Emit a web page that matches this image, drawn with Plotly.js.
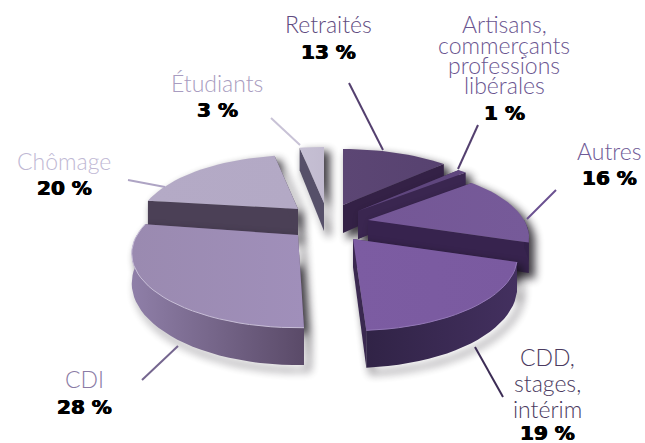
<!DOCTYPE html>
<html lang="fr">
<head>
<meta charset="utf-8">
<script src="https://cdn.plot.ly/plotly-3.0.1.min.js"></script>
<style>html,body{margin:0;padding:0;background:#fff}#chart{width:645px;height:443px}</style>
</head>
<body>
<div id="chart"></div>
<script>
// Répartition par situation, dans le sens horaire depuis midi
const sliceNames = ['Retraités', 'Artisans', 'Autres', 'CDD', 'CDI', 'Chômage', 'Étudiants'];
const shares = [13, 1, 16, 19, 28, 20, 3];
const labelLines = [
  ['Retraités'],
  ['Artisans,', 'commerçants', 'professions', 'libérales'],
  ['Autres'],
  ['CDD,', 'stages,', 'intérim'],
  ['CDI'],
  ['Chômage'],
  ['Étudiants']
];

// Projection of the exploded disc
const RADIUS = 162, DEPTH = 70, PERSPECTIVE = 0.25, THICKNESS = 28;

// Per-slice look: centre of the slice on the page, colours, label and leader placement
const looks = [
  {c:[343,205], top:['#5c4674','#574270'], wall:['#382549','#33213f'], cut:'#342146', text:'#5f4b80',
   lx:328, ly:[24], py:52, lead:[[349,83],[383,150]], leadCol:'#54406f'},
  {c:[358,211], top:['#5f467e','#5f467e'], wall:['#38254e','#38254e'], cut:'#3a2650', text:'#6a5590',
   lx:504, ly:[24,45,65,85], py:113, lead:[[478,125],[458,169]], leadCol:'#54406f'},
  {c:[368,220], top:['#745796','#765a99'], wall:['#3a2650','#33214a'], cut:'#37234e', text:'#6f5a96',
   lx:609, ly:[151], py:178, lead:[[556,190],[527,219]], leadCol:'#6a5090', r:156},
  {c:[353,239], top:['#7c5ca2','#7a5aa0'], wall:['#2f2244','#43305f'], cut:'#3a2850', text:'#4a3a60',
   lx:547, ly:[357,383,409], py:433, lead:[[503,397],[475,347]], leadCol:'#3c2c55', r:159},
  {c:[298,235], top:['#a08fba','#9a8ab0'], wall:['#5a4a68','#8f7fa8'], cut:'#5a4a68', text:'#8a7ba5',
   lx:84, ly:[379], py:407, lead:[[142,380],[178,346]], leadCol:'#75668f', r:161, turn:2},
  {c:[298,209], top:['#b4aac6','#b3a9c5'], wall:['#6d6080','#6d6080'], cut:'#4b4056', text:'#c0b8d4',
   lx:64, ly:[161], py:188, lead:[[128,180],[165,187]], leadCol:'#aea4c4', r:156},
  {c:[324,203], top:['#c6c0d4','#c2bbd0'], wall:['#55506a','#55506a'], cut:'#565069', text:'#a89cc0',
   lx:217, ly:[83], py:110, lead:[[271,118],[300,145]], leadCol:'#c8c2d6'}
];

// Maps an angle (degrees clockwise from midnight) to a page position relative to the slice centre
function project(deg, r, z) {
  const a = deg * Math.PI / 180;
  const u = Math.sin(a), v = -Math.cos(a);
  const s = 1 / (1 - PERSPECTIVE * v);
  return [r * u * s, (DEPTH / RADIUS) * r * v * s + z * THICKNESS * s];
}

function arc(look, a0, a1, z) {
  const r = look.r || RADIUS, n = Math.max(6, Math.ceil((a1 - a0) / 3)), pts = [];
  for (let i = 0; i <= n; i++) {
    const p = project(a0 + (a1 - a0) * i / n, r, z);
    pts.push([look.c[0] + p[0], look.c[1] + p[1]]);
  }
  return pts;
}

const poly = (pts, extra) => Object.assign({
  type: 'scatter', mode: 'lines', x: pts.map(p => p && p[0]), y: pts.map(p => p && p[1]),
  fill: 'toself', line: {width: 0}, hoverinfo: 'skip', showlegend: false
}, extra);

const traces = [];
const shadowTraces = [];
const total = shares.reduce((a, b) => a + b, 0);
const spans = [];
shares.reduce((acc, v, i) => { spans[i] = [acc, acc + v / total * 360]; return spans[i][1]; }, 0);

// Back slices are painted first so that the front ones overlap them
[6, 0, 1, 5, 2, 4, 3].forEach(i => {
  const L = looks[i];
  const a0 = spans[i][0] + (L.turn || 0), a1 = spans[i][1] + (L.turn || 0);
  const apexT = [L.c[0], L.c[1]], apexB = [L.c[0], L.c[1] + THICKNESS];
  const topArc = arc(L, a0, a1, 0), botArc = arc(L, a0, a1, 1);
  const top = [apexT, ...topArc, apexT];
  const bottom = [apexB, ...botArc, apexB];
  const cutA = [apexT, topArc[0], botArc[0], apexB, apexT];
  const cutB = [apexT, topArc[topArc.length - 1], botArc[botArc.length - 1], apexB, apexT];

  // Only the part of the rim turned towards the viewer is painted
  const f0 = Math.max(a0, 90), f1 = Math.min(a1, 270);
  const hasRim = f1 > f0;
  const rimT = hasRim ? arc(L, f0, f1, 0) : [];
  const rimB = hasRim ? arc(L, f0, f1, 1) : [];
  const outer = hasRim ? [...rimT, ...rimB.slice().reverse(), rimT[0]] : [];

  // Drop shadow of the whole slice, softened once the plot is drawn
  const all = [...top, null, ...bottom, null, ...cutA, null, ...cutB, ...(hasRim ? [null, ...outer] : [])]
    .map(p => p && [p[0] + 5, p[1] + 5]);
  shadowTraces.push(traces.length);
  traces.push(poly(all, {fillcolor: '#141018', line: {width: 2, color: '#141018'}, opacity: 0.8}));

  const xs = topArc.map(p => p[0]);
  const x0 = Math.min(L.c[0], ...xs), x1 = Math.max(L.c[0], ...xs);
  const grad = (c) => ({fillgradient: {type: 'horizontal', start: x0, stop: x1,
    colorscale: [[0, i === 4 ? c[1] : c[0]], [1, i === 4 ? c[0] : c[1]]]}});

  traces.push(poly(cutA, {fillcolor: L.cut}));
  traces.push(poly(cutB, {fillcolor: L.cut}));
  if (hasRim) traces.push(poly(outer, grad(L.wall)));
  traces.push(poly(top, grad(L.top)));
  // Light rim along the curved edge of the front slices
  if (i === 3 || i === 4) {
    traces.push({type: 'scatter', mode: 'lines', x: topArc.map(p => p[0]), y: topArc.map(p => p[1]),
      line: {width: 1, color: i === 4 ? '#c8bed8' : '#9478b8'}, hoverinfo: 'skip', showlegend: false});
  }
});

// Leaders and labels
const annotations = [];
looks.forEach((L, i) => {
  traces.push({type: 'scatter', mode: 'lines', x: L.lead.map(p => p[0]), y: L.lead.map(p => p[1]),
    line: {width: 2, color: L.leadCol}, hoverinfo: 'skip', showlegend: false});
  labelLines[i].forEach((t, k) => annotations.push({
    xref: 'x', yref: 'y', x: L.lx, y: L.ly[k], text: t, showarrow: false,
    xanchor: 'center', yanchor: 'middle',
    font: {family: 'Lato, "Liberation Sans", sans-serif', size: 23, weight: 300, color: L.text}
  }));
  annotations.push({
    xref: 'x', yref: 'y', x: L.lx, y: L.py, text: '<b>' + shares[i] + ' %</b>', showarrow: false,
    xanchor: 'center', yanchor: 'middle',
    font: {family: '"DejaVu Sans", sans-serif', size: 20, color: '#000',
           shadow: '0.5px 0 0 #000, -0.5px 0 0 #000'}
  });
});

Plotly.newPlot('chart', traces, {
  width: 645, height: 443, margin: {l: 0, r: 0, t: 0, b: 0},
  paper_bgcolor: '#fff', plot_bgcolor: '#fff', showlegend: false,
  xaxis: {range: [0, 645], visible: false, fixedrange: true},
  yaxis: {range: [443, 0], visible: false, fixedrange: true},
  annotations
}, {displayModeBar: false, staticPlot: true}).then(gd => {
  const groups = gd.querySelectorAll('.scatterlayer .trace');
  shadowTraces.forEach(k => { groups[k].style.filter = 'blur(4px)'; });
});
</script>
</body>
</html>
